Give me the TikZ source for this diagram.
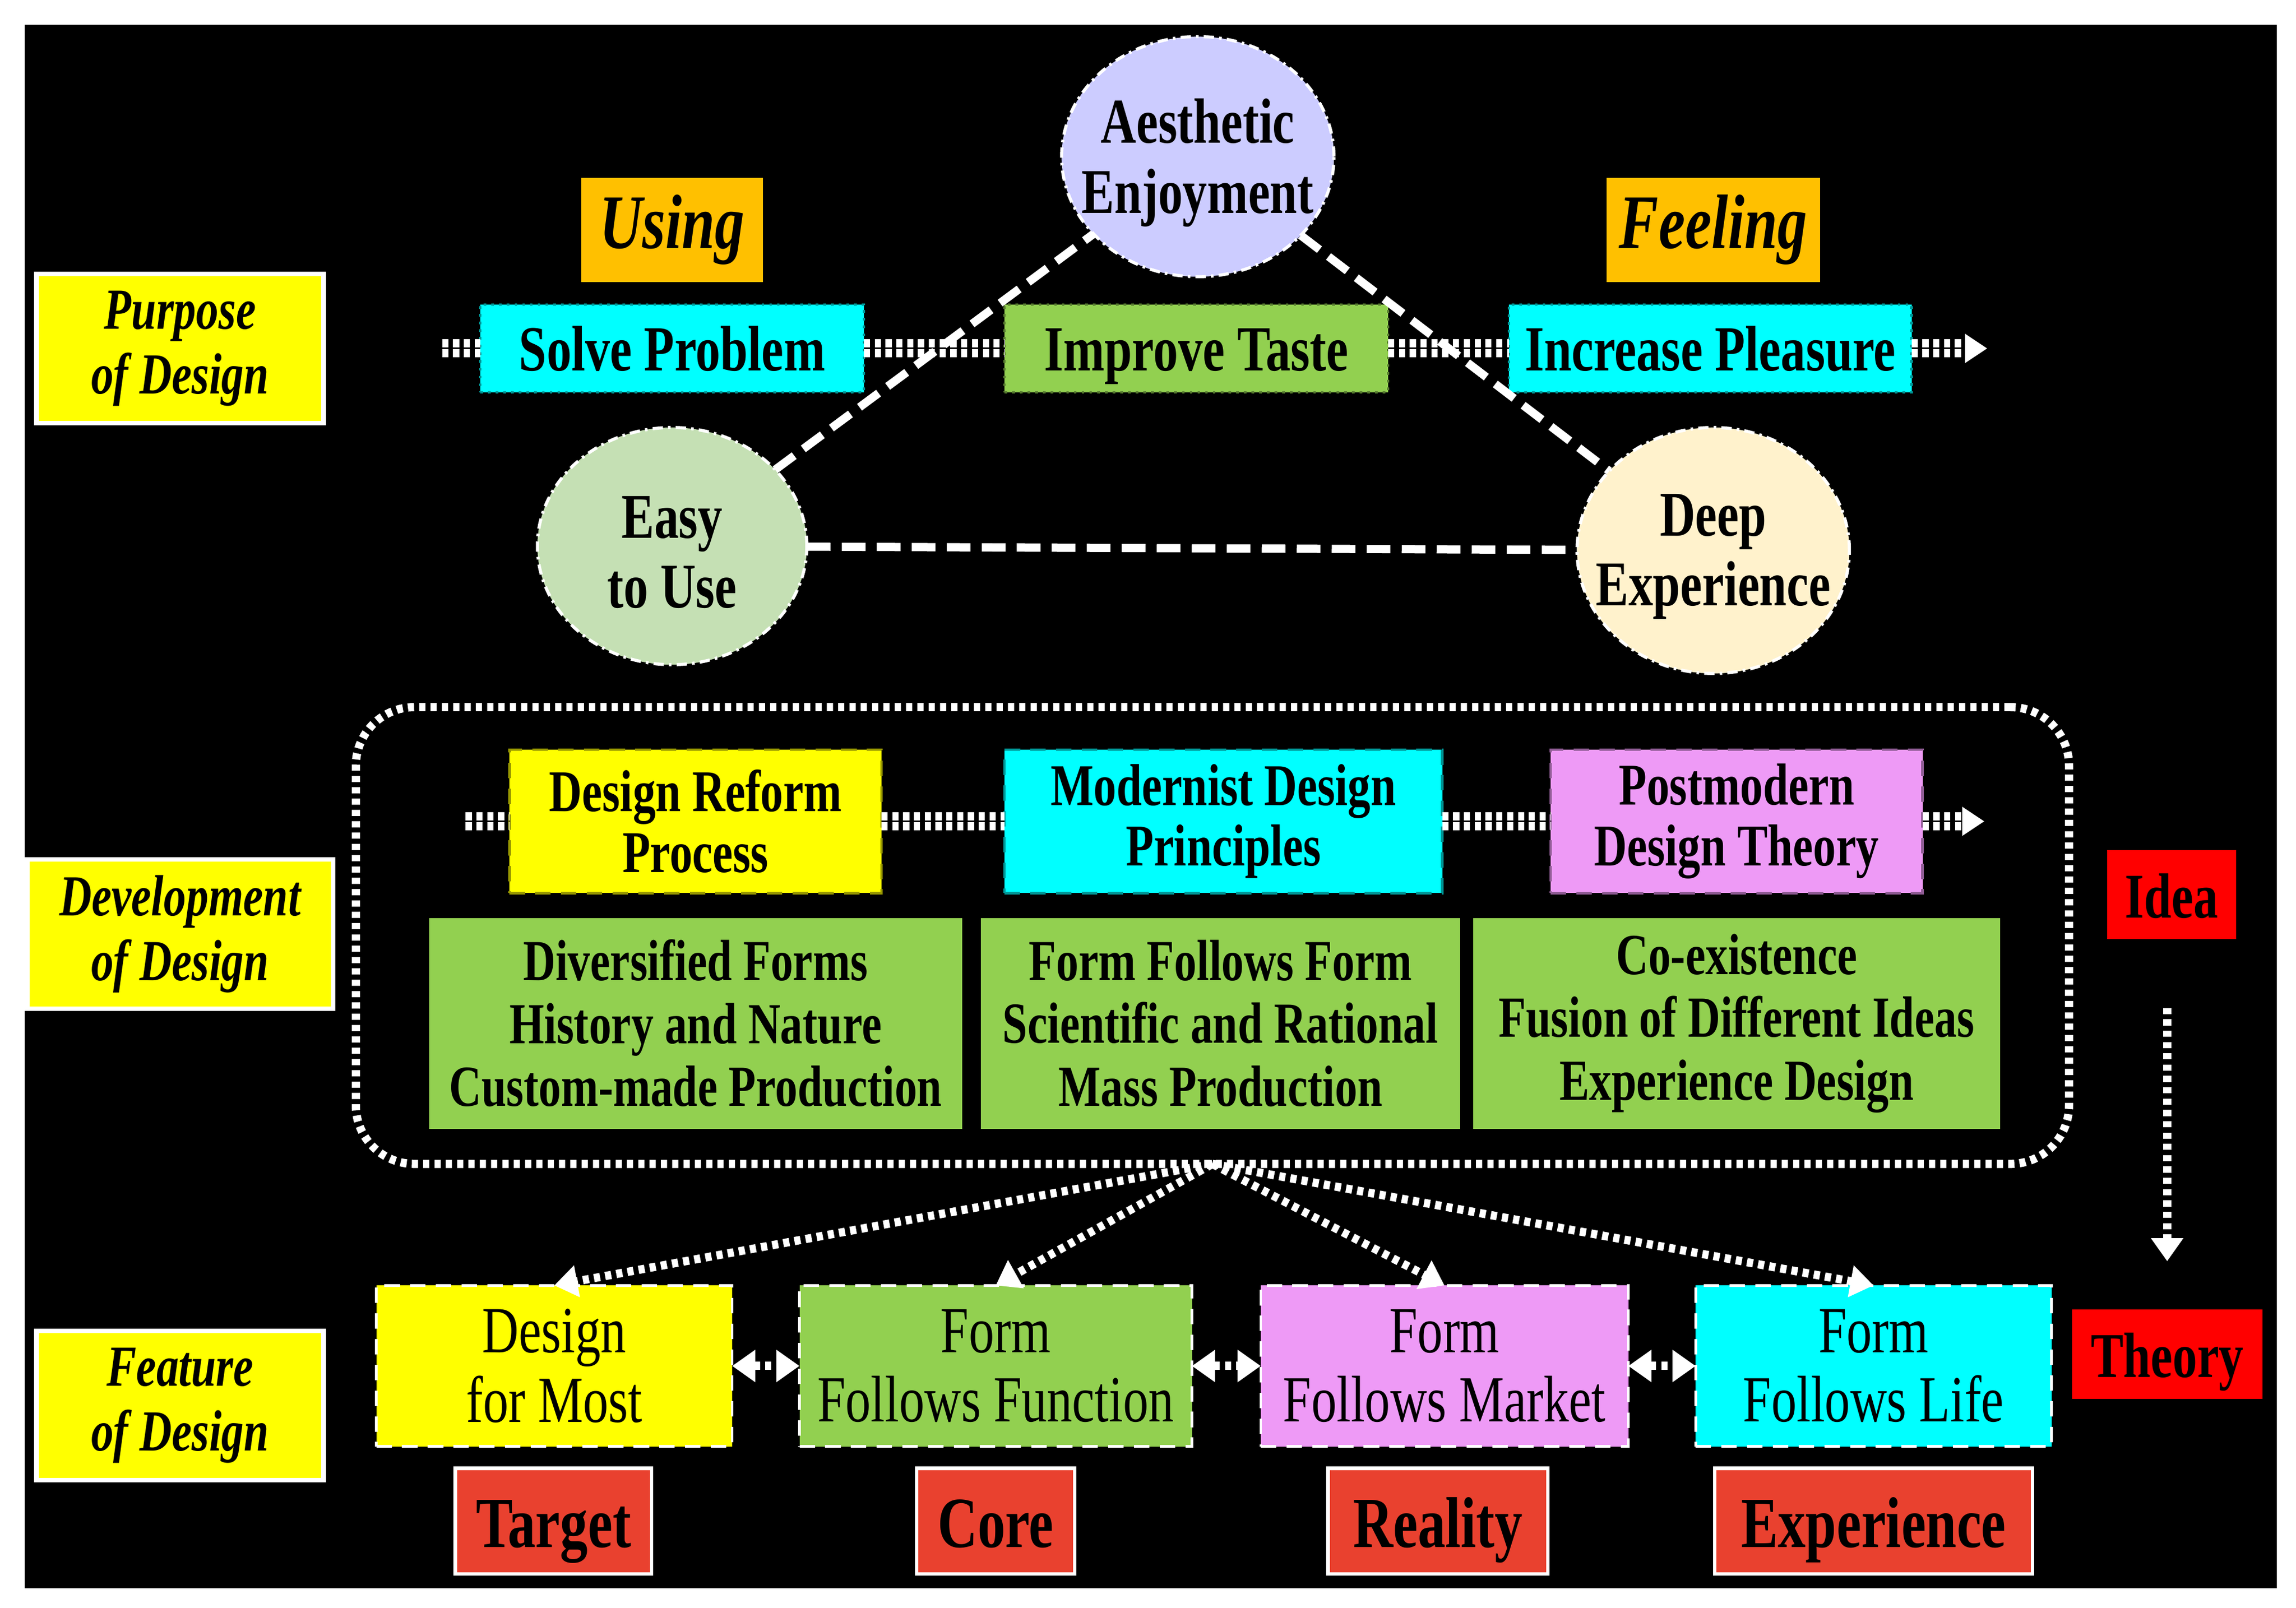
\documentclass[tikz,border=0pt]{standalone}
\usepackage{fontspec}
\setmainfont{Liberation Serif}[FakeStretch=0.77]
\usetikzlibrary{shapes.geometric,arrows.meta}
\definecolor{lblyellow}{HTML}{FFFF00}
\definecolor{keyorange}{HTML}{FFC000}
\definecolor{goalcyan}{HTML}{00FFFF}
\definecolor{goalgreen}{HTML}{92D050}
\definecolor{ovallav}{HTML}{CCCCFF}
\definecolor{ovalgreen}{HTML}{C5E0B4}
\definecolor{ovalcream}{HTML}{FFF2CC}
\definecolor{stageviolet}{HTML}{EE9AF6}
\definecolor{ideared}{HTML}{FF0000}
\definecolor{tagred}{HTML}{E9412F}
\begin{document}
\begin{tikzpicture}[x=0.1mm, y=-0.1mm,
    every node/.style={inner sep=0pt, outer sep=0pt, align=center, text=black},
    lbl/.style={draw=white, line width=0.9pt, fill=lblyellow, font={\fontsize{11.3pt}{12.6pt}\selectfont\bfseries\itshape}, minimum height=10.2mm},
    keyw/.style={fill=keyorange, font={\fontsize{15pt}{17pt}\selectfont\bfseries\itshape}, minimum height=7.1mm},
    oval/.style={ellipse, draw=white, line width=0.6pt, dash pattern=on 2pt off 1pt on 0.5pt off 1pt},
    ovaltext/.style={font={\fontsize{12.4pt}{13.6pt}\selectfont\bfseries}, yshift=-1.2pt},
    goal/.style={draw=#1!60!black, densely dotted, line width=0.5pt, fill=#1, font={\fontsize{12.5pt}{14pt}\selectfont\bfseries}, minimum height=6mm, text height=11pt, text depth=2.4pt},
    stage/.style={draw=#1!60!black, densely dashed, line width=0.5pt, fill=#1, font={\fontsize{11.5pt}{11.8pt}\selectfont\bfseries}, minimum height=9.8mm},
    trait/.style={fill=goalgreen, font={\fontsize{11.3pt}{12.2pt}\selectfont\bfseries}, minimum height=14.4mm},
    feat/.style={draw=white, densely dashed, line width=0.5pt, fill=#1, font={\fontsize{12.8pt}{13.5pt}\selectfont}, minimum height=11mm},
    tag/.style={draw=white, line width=0.7pt, fill=tagred, font={\fontsize{14pt}{16pt}\selectfont\bfseries}, minimum height=7.2mm, text height=13pt, text depth=2.8pt},
    idea/.style={fill=ideared, font={\fontsize{12.4pt}{14pt}\selectfont\bfseries}, minimum height=6.1mm, text height=11.2pt, text depth=2.2pt},
    dotline/.style={draw=white, line width=1.6pt, double=black, double distance=0.3pt, dash pattern=on 1.2pt off 0.9pt},
    tri/.style={draw=white, line width=1.6pt, dash pattern=on 4.6pt off 2.2pt},
    fan/.style={draw=white, line width=1.6pt, dash pattern=on 1.2pt off 1pt, -{Triangle[length=4.5pt, width=6pt]}},
    dbl/.style={draw=white, line width=1.6pt, dash pattern=on 1.2pt off 1pt, {Triangle[length=4.5pt, width=6pt]}-{Triangle[length=4.5pt, width=6pt]}}]
    \useasboundingbox (0,0) rectangle (1568,1098.3);
    \fill[white] (0,0) rectangle (1568,1098.3);
    \fill[black] (17,17) rectangle (1555,1085);

    \node[lbl, minimum width=19.6mm] (purpose) at (123,238) {Purpose\\of Design};
    \node[lbl, minimum width=20.9mm] (develop) at (123,638) {Development\\of Design};
    \node[lbl, minimum width=19.6mm] (feature) at (123,960) {Feature\\of Design};

    \node[keyw, minimum width=12.4mm] (using) at (459,157) {Using};
    \node[keyw, minimum width=14.6mm] (feeling) at (1170,157) {Feeling};

    \node[oval, fill=ovallav, minimum width=18.6mm, minimum height=16.4mm, label={[ovaltext]center:{Aesthetic\\Enjoyment}}] (aes) at (818,107) {};
    \node[oval, fill=ovalgreen, minimum width=18.4mm, minimum height=16.2mm, label={[ovaltext]center:{Easy\\to Use}}] (easy) at (459,373) {};
    \node[oval, fill=ovalcream, minimum width=18.6mm, minimum height=16.8mm, label={[ovaltext]center:{Deep\\Experience}}] (deep) at (1170,376) {};

    \node[goal=goalcyan, minimum width=26.2mm] (solve) at (459,238) {Solve Problem};
    \node[goal=goalgreen, minimum width=26.2mm] (taste) at (817,238) {Improve Taste};
    \node[goal=goalcyan, minimum width=27.5mm] (pleasure) at (1168,238) {Increase Pleasure};
    \coordinate (p0) at (302,238);
    \coordinate (p1) at (1357,238);

    \draw[dotline] (p0) -- (solve);
    \draw[dotline] (solve) -- (taste);
    \draw[dotline] (taste) -- (pleasure);
    \draw[dotline, shorten >=1.3mm] (pleasure) -- (p1);
    \fill[white] (p1) -- ++(-15,-10) -- ++(0,20) -- cycle;

    \draw[tri] (easy) -- (aes);
    \draw[tri] (aes) -- (deep);
    \draw[tri] (easy) -- (deep);

    \node[draw=white, line width=1.6pt, dash pattern=on 1.2pt off 1pt, rounded corners=4mm, minimum width=117mm, minimum height=31.2mm] (frame) at (828,639) {};

    \node[stage=lblyellow, minimum width=25.4mm] (reform) at (475,561) {Design Reform\\Process};
    \node[stage=goalcyan, minimum width=29.9mm] (modern) at (835.5,561) {Modernist Design\\Principles};
    \node[stage=stageviolet, minimum width=25.4mm] (postmod) at (1186,561) {Postmodern\\Design Theory};
    \coordinate (q0) at (318,561);
    \coordinate (q1) at (1355,561);

    \draw[dotline] (q0) -- (reform);
    \draw[dotline] (reform) -- (modern);
    \draw[dotline] (modern) -- (postmod);
    \draw[dotline, shorten >=1.3mm] (postmod) -- (q1);
    \fill[white] (q1) -- ++(-15,-10) -- ++(0,20) -- cycle;

    \node[trait, minimum width=36.4mm] (trait1) at (475,699) {Diversified Forms\\History and Nature\\Custom-made Production};
    \node[trait, minimum width=32.7mm] (trait2) at (833.5,699) {Form Follows Form\\Scientific and Rational\\Mass Production};
    \node[trait, minimum width=36mm] (trait3) at (1186,699) {Co-existence\\Fusion of Different Ideas\\Experience Design};

    \node[idea, minimum width=8.8mm] (idea) at (1483,611) {Idea};
    \node[idea, minimum width=13mm] (theory) at (1480,925) {Theory};
    \draw[fan, shorten <=4.7mm, shorten >=3.3mm] (idea.south -| theory) -- (theory.north);

    \node[feat=lblyellow, minimum width=24.3mm] (most) at (378.5,933) {Design\\for Most};
    \node[feat=goalgreen, minimum width=26.8mm] (function) at (680,933) {Form\\Follows Function};
    \node[feat=stageviolet, minimum width=25.1mm] (market) at (986.5,933) {Form\\Follows Market};
    \node[feat=goalcyan, minimum width=24.3mm] (life) at (1279.5,933) {Form\\Follows Life};

    \draw[fan] (frame.south) -- (most.north);
    \draw[fan] (frame.south) -- (function.north);
    \draw[fan] (frame.south) -- (market.north);
    \draw[fan] (frame.south) -- (life.north);

    \draw[dbl] (most) -- (function);
    \draw[dbl] (function) -- (market);
    \draw[dbl] (market) -- (life);

    \node[tag, minimum width=13.4mm] (target) at (378,1039) {Target};
    \node[tag, minimum width=10.8mm] (core) at (680,1039) {Core};
    \node[tag, minimum width=15mm] (reality) at (982,1039) {Reality};
    \node[tag, minimum width=21.7mm] (experience) at (1279.5,1039) {Experience};
\end{tikzpicture}
\end{document}
